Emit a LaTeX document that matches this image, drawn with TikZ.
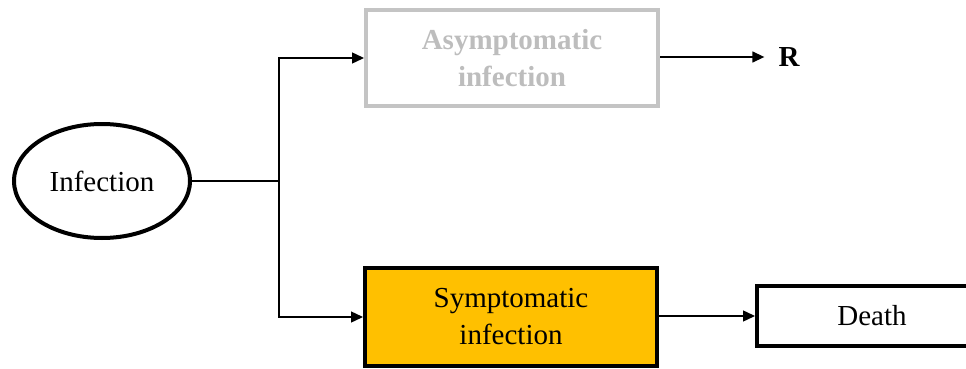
\documentclass[tikz,border=0pt]{standalone}
\usepackage{fontspec}
\setmainfont{Liberation Serif}
\newfontfamily\tnr{Liberation Serif}
\usetikzlibrary{arrows.meta,shapes.geometric}
\definecolor{boxgray}{HTML}{C4C4C4}
\definecolor{textgray}{HTML}{BDBDBD}
\definecolor{amber}{HTML}{FFC000}
\begin{document}
\begin{tikzpicture}[x=1pt,y=-1pt,
  txt/.style={font=\tnr\fontsize{29}{37}\selectfont, align=center, inner sep=0pt},
  flowbox/.style={draw, line width=4pt, rectangle, minimum width=292pt, minimum height=95pt, txt},
  link/.style={line width=1.4pt},
  arr/.style={link, -{Triangle[length=12pt,width=11pt]}}]
\useasboundingbox (0,0) rectangle (966,369);

% start state
\node[draw, line width=4pt, ellipse, minimum width=176pt, minimum height=114pt, txt] (inf) at (102,181) {Infection};

% the two branches
\node[flowbox, draw=boxgray, text=textgray, font=\tnr\fontsize{29}{37}\selectfont\bfseries] (asym) at (512,58) {Asymptomatic\\infection};
\node[flowbox, fill=amber, minimum height=98pt] (sym) at (511,317) {Symptomatic\\infection};

% outcomes
\node[txt, font=\tnr\fontsize{29}{34}\selectfont\bfseries] (R) at (789,57) {R};
\node[draw, line width=4pt, rectangle, minimum width=230pt, minimum height=60pt, txt, anchor=west] (death) at (755,316) {Death};

% junction and connectors
\coordinate (split) at (279,181);
\draw[link] (inf.east) -- (split);
\draw[arr] (split) |- (asym.west);
\draw[arr] (split) |- (sym.west);
\draw[arr, shorten >=14pt] (asym.east |- R.west) -- (R.west);
\draw[arr] (sym.east |- death.west) -- (death.west);
\end{tikzpicture}
\end{document}
